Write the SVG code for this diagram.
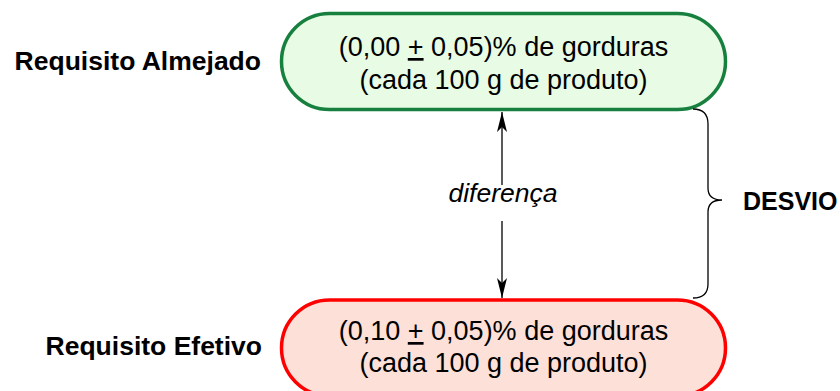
<svg xmlns="http://www.w3.org/2000/svg" width="840" height="391" viewBox="0 0 840 391">
<style>
.t{font-family:"Liberation Sans",Arial,sans-serif;fill:#000}
.main{font-size:27px;text-anchor:middle}
.lbl{font-size:26.5px;font-weight:bold}
.ul{text-decoration:underline}
.conn{stroke:#000;stroke-width:1.3;fill:none}
</style>
<defs>
<marker id="ah" markerUnits="userSpaceOnUse" markerWidth="22" markerHeight="12" viewBox="0 -6 22 12" refX="20" refY="0" orient="auto">
<path d="M20,0 L0,-5 L5,0 L0,5 Z" fill="#000"/>
</marker>
</defs>
<rect width="840" height="391" fill="#fff"/>
<g id="almejado">
<rect x="281.5" y="13.5" width="444" height="96" rx="48" ry="48" fill="#e8fbe4" stroke="#17803f" stroke-width="3.5"/>
<text class="t main" x="503.5" y="56">(0,00 <tspan class="ul">+</tspan> 0,05)% de gorduras</text>
<text class="t main" x="503.5" y="89">(cada 100 g de produto)</text>
</g>
<g id="efetivo">
<rect x="281.5" y="300" width="444" height="96" rx="48" ry="48" fill="#fde0d8" stroke="#ff0000" stroke-width="3.5"/>
<text class="t main" x="503.5" y="340">(0,10 <tspan class="ul">+</tspan> 0,05)% de gorduras</text>
<text class="t main" x="503.5" y="372">(cada 100 g de produto)</text>
</g>
<g id="label-almejado">
<text class="t lbl" x="261" y="70" text-anchor="end">Requisito Almejado</text>
</g>
<g id="label-efetivo">
<text class="t lbl" x="262" y="355" text-anchor="end">Requisito Efetivo</text>
</g>
<g id="connectors">
<path class="conn" d="M502,185 L502,112" marker-end="url(#ah)"/>
<path class="conn" d="M502,221 L502,298" marker-end="url(#ah)"/>
<path class="conn" d="M693,109 Q708,109 708,124 L708,188 Q708,200 722,200 Q708,200 708,212 L708,284 Q708,298 693,298"/>
</g>
<g id="diferenca">
<text class="t" x="503" y="202" font-size="26.5" font-style="italic" text-anchor="middle">diferença</text>
</g>
<g id="desvio">
<text class="t lbl" x="743" y="210" style="font-size:25px">DESVIO</text>
</g>
</svg>
